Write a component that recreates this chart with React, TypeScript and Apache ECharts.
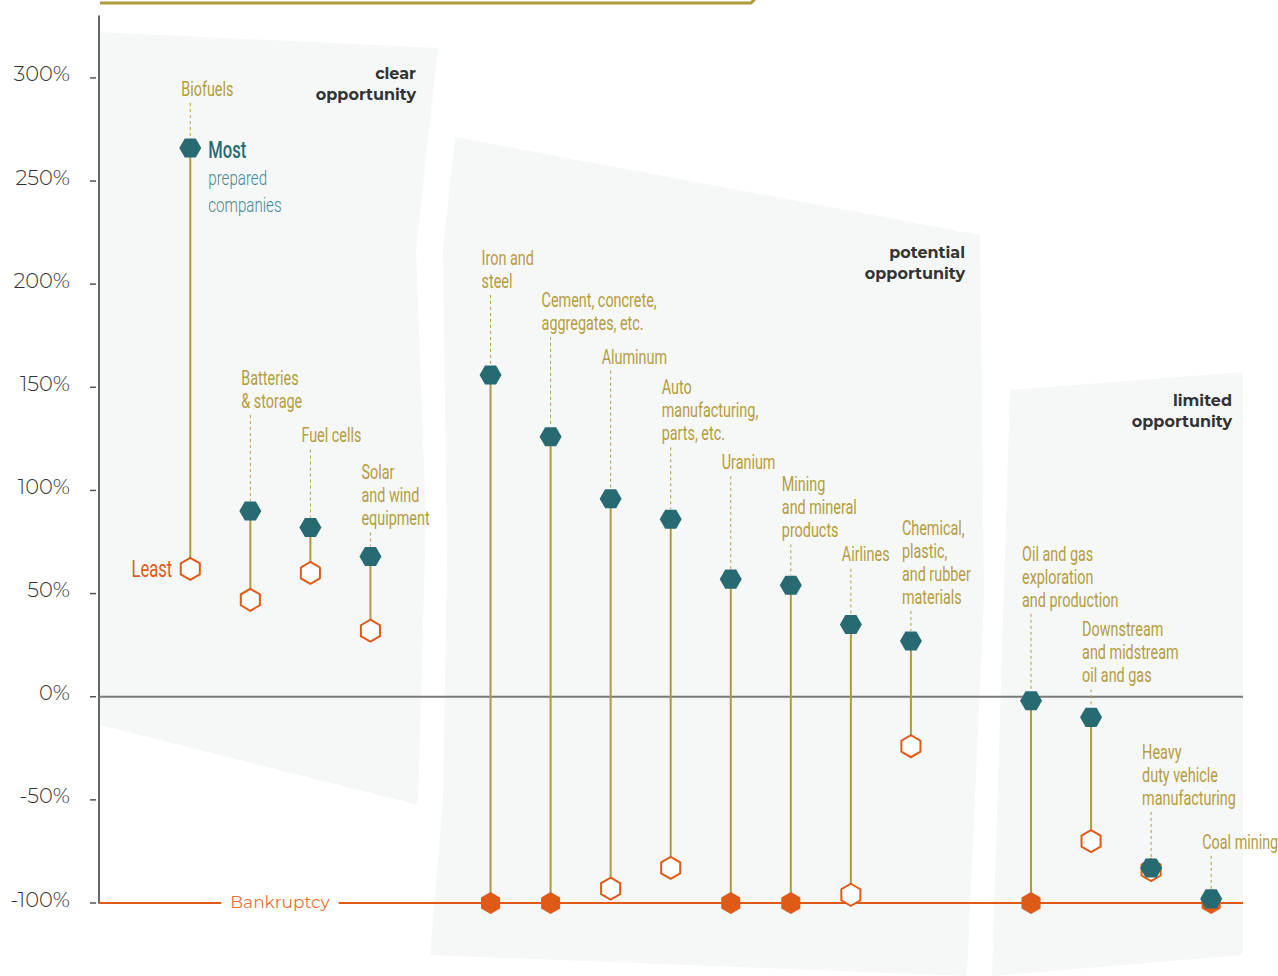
import React, { useEffect, useRef } from 'react';
import * as echarts from 'echarts';

// ---------- data ----------
const groups: string[][] = [
  ['Biofuels', 'Batteries\n& storage', 'Fuel cells', 'Solar\nand wind\nequipment'],
  [
    'Iron and\nsteel',
    'Cement, concrete,\naggregates, etc.',
    'Aluminum',
    'Auto\nmanufacturing,\nparts, etc.',
    'Uranium',
    'Mining\nand mineral\nproducts',
    'Airlines',
    'Chemical,\nplastic,\nand rubber\nmaterials',
  ],
  ['Oil and gas\nexploration\nand production', 'Downstream\nand midstream\noil and gas', 'Heavy\nduty vehicle\nmanufacturing', 'Coal mining'],
];
const groupTitles = ['clear\nopportunity', 'potential\nopportunity', 'limited\nopportunity'];
// % change in value, most prepared companies (teal) and least prepared companies (orange)
const mostPrepared = [266, 90, 82, 68, 156, 126, 96, 86, 57, 54, 35, 27, -2, -10, -83, -98];
const leastPrepared = [62, 47, 60, 32, -100, -100, -93, -83, -100, -100, -96, -24, -100, -70, -84, -100];
const yTicks = [-100, -50, 0, 50, 100, 150, 200, 250, 300];

// ---------- layout (pixels) ----------
const labelGap = [59, 110, 92, 38, 94, 114, 142, 86, 117, 55, 70, 44, 101, 42, 70, 57];

const GOLD = '#b09a3c';
const GOLD_TEXT = '#b59c3e';
const TEAL = '#276a72';
const TEAL_LIGHT = '#4a868e';
const ORANGE = '#e05a17';
const PANEL = '#f6f8f8';
const COND = "Roboto, 'Noto Sans', sans-serif";
const SQUEEZE = 0.72;
const WIDE = "'Montserrat', 'Inter', 'Noto Sans', sans-serif";

const names: string[] = [];
const slots: number[] = [];
groups.forEach((g, gi) => {
  g.forEach((n) => {
    slots.push(names.length + gi);
    names.push(n);
  });
});

function hexPoints(cx: number, cy: number, r: number, startDeg: number) {
  const pts: number[][] = [];
  for (let k = 0; k < 6; k++) {
    const a = ((startDeg + 60 * k) * Math.PI) / 180;
    pts.push([cx + r * Math.cos(a), cy + r * Math.sin(a)]);
  }
  return pts;
}

export default function App() {
  const ref = useRef<HTMLDivElement>(null);
  useEffect(() => {
    document.body.style.margin = '0';
    if (!ref.current) return;
    const chart = echarts.init(ref.current, undefined, { renderer: 'svg' });

    const data = names.map((_, i) => [slots[i], mostPrepared[i], leastPrepared[i]]);
    const xMin = -1.52;
    const xMax = 17.53;

    const panels = [
      [[100, 32], [438, 48], [416, 250], [426, 520], [418, 805], [100, 725]],
      [[455, 137], [980, 235], [984, 596], [967, 976], [430, 955], [443, 800], [447, 560], [443, 250]],
      [[1010, 390], [1243, 372], [1243, 955], [992, 976]],
    ];
    const titlePos = [
      [416, 84],
      [965, 263],
      [1232, 411],
    ];

    const graphic: any[] = [];
    panels.forEach((p) =>
      graphic.push({ type: 'polygon', z: -10, silent: true, shape: { points: p }, style: { fill: PANEL } })
    );
    groupTitles.forEach((t, i) =>
      graphic.push({
        type: 'text',
        z: 1,
        x: titlePos[i][0],
        y: titlePos[i][1],
        style: {
          text: t,
          align: 'right',
          verticalAlign: 'middle',
          fill: '#333333',
          font: `bold 16px ${WIDE}`,
          lineHeight: 21,
        },
      })
    );
    graphic.push({
      type: 'polyline',
      shape: { points: [[100, 3], [751, 3], [755, -1]] },
      style: { stroke: GOLD, lineWidth: 3, fill: null },
    });

    const option: any = {
      animation: false,
      backgroundColor: '#ffffff',
      grid: { left: 99, right: 35, top: 16, bottom: 73 },
      xAxis: { type: 'value', min: xMin, max: xMax, show: false },
      yAxis: {
        type: 'value',
        min: yTicks[0],
        max: 330,
        interval: 50,
        splitLine: { show: false },
        axisTick: { show: false },
        axisLine: { show: true, onZero: false, lineStyle: { color: '#333333', width: 1.5 } },
        axisLabel: {
          margin: 3,
          formatter: (v: number) => (yTicks.indexOf(v) >= 0 ? `{v|${v}%}{g|}{t|}` : ''),
          rich: {
            v: { fontFamily: WIDE, fontSize: 21, color: '#333333', fontWeight: 300, padding: [0, 0, 8, 0] },
            g: { width: 20 },
            t: { width: 6, height: 1.5, backgroundColor: '#555555' },
          },
        },
      },
      graphic,
      series: [
        {
          type: 'custom',
          name: 'reference',
          z: 1,
          silent: true,
          data: [[0, 0]],
          renderItem: (params: any, api: any) => {
            const cs = params.coordSys;
            const y0 = api.coord([xMin, 0])[1];
            const yb = api.coord([xMin, -100])[1];
            return {
              type: 'group',
              children: [
                { type: 'line', shape: { x1: cs.x, y1: y0, x2: cs.x + cs.width, y2: y0 }, style: { stroke: '#7a7a7a', lineWidth: 2 } },
                { type: 'line', shape: { x1: cs.x, y1: yb, x2: cs.x + cs.width, y2: yb }, style: { stroke: ORANGE, lineWidth: 2 } },
                {
                  type: 'text',
                  x: cs.x + 181,
                  y: yb - 1,
                  style: {
                    text: 'Bankruptcy',
                    align: 'center',
                    verticalAlign: 'middle',
                    fill: '#e8723c',
                    font: `17px ${WIDE}`,
                    backgroundColor: '#ffffff',
                    padding: [2, 9, 2, 9],
                  },
                },
              ],
            };
          },
        },
        {
          type: 'custom',
          name: 'companies',
          z: 3,
          data,
          renderItem: (params: any, api: any) => {
            const i = params.dataIndex;
            const slot = api.value(0);
            const pT = api.coord([slot, api.value(1)]);
            const pB = api.coord([slot, api.value(2)]);
            const lastY = pT[1] - labelGap[i];
            const bankrupt = api.value(2) <= -100;
            const children: any[] = [
              { type: 'line', shape: { x1: pT[0], y1: pT[1], x2: pB[0], y2: pB[1] }, style: { stroke: GOLD, lineWidth: 2 } },
              {
                type: 'line',
                shape: { x1: pT[0], y1: lastY + 14, x2: pT[0], y2: pT[1] - 10 },
                style: { stroke: GOLD_TEXT, lineWidth: 1, lineDash: [3, 3] },
              },
              {
                type: 'text',
                x: pT[0] - 9,
                y: lastY + 11.5,
                scaleX: SQUEEZE,
                style: {
                  text: names[i],
                  align: 'left',
                  verticalAlign: 'bottom',
                  fill: GOLD_TEXT,
                  font: `400 20px ${COND}`,
                  lineHeight: 23,
                },
              },
              {
                type: 'polygon',
                shape: { points: hexPoints(pB[0], pB[1], 11, -90) },
                style: bankrupt ? { fill: ORANGE } : { fill: '#ffffff', stroke: ORANGE, lineWidth: 2 },
              },
              {
                type: 'polygon',
                shape: { points: hexPoints(pT[0], pT[1], 11, 0) },
                style: { fill: TEAL },
              },
            ];
            if (i === 0) {
              children.push({
                type: 'text',
                x: pT[0] + 18,
                y: pT[1] + 2,
                scaleX: SQUEEZE,
                style: { text: 'Most', align: 'left', verticalAlign: 'middle', fill: TEAL, font: `500 23px ${COND}` },
              });
              children.push({
                type: 'text',
                x: pT[0] + 18,
                y: pT[1] + 16,
                scaleX: SQUEEZE,
                style: {
                  text: 'prepared\ncompanies',
                  align: 'left',
                  verticalAlign: 'top',
                  fill: TEAL_LIGHT,
                  font: `300 21px ${COND}`,
                  lineHeight: 27,
                },
              });
              children.push({
                type: 'text',
                x: pB[0] - 18,
                y: pB[1],
                scaleX: SQUEEZE,
                style: { text: 'Least', align: 'right', verticalAlign: 'middle', fill: ORANGE, font: `400 23px ${COND}` },
              });
            }
            return { type: 'group', children };
          },
        },
      ],
    };
    chart.setOption(option);
    return () => chart.dispose();
  }, []);
  return <div ref={ref} style={{ width: 1278, height: 976 }} />;
}
